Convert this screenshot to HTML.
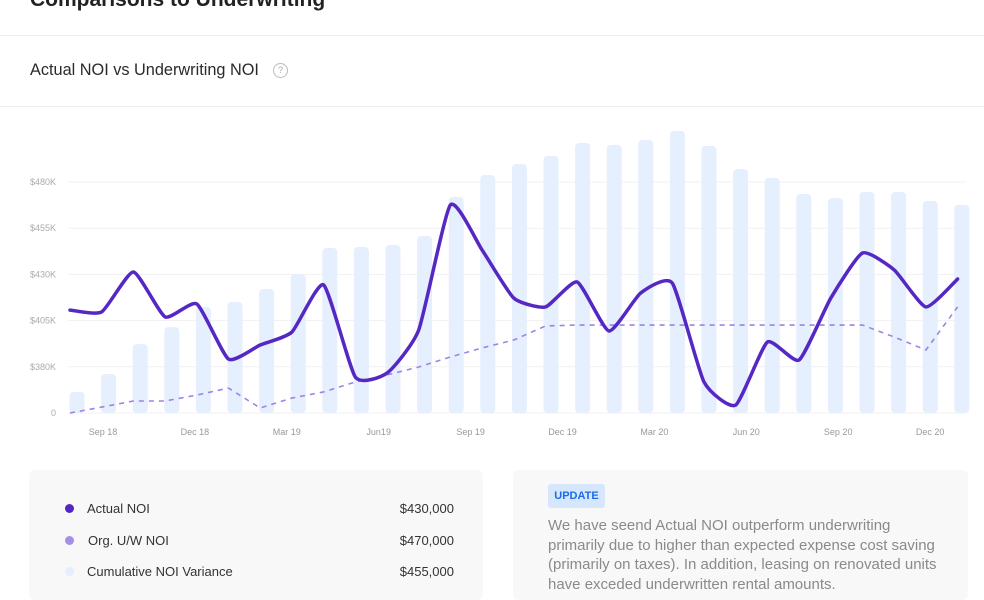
<!DOCTYPE html>
<html><head><meta charset="utf-8">
<style>
body{margin:0;width:984px;height:590px;overflow:hidden;background:#fff;font-family:"Liberation Sans",sans-serif;position:relative}
.abs{position:absolute}
</style></head><body>
<div class="abs" style="left:30px;top:-12px;font-size:21px;font-weight:bold;color:#222">Comparisons to Underwriting</div>
<div class="abs" style="left:0;top:35px;width:984px;height:1px;background:#eee"></div>
<div class="abs" style="left:30px;top:61px;font-size:16.3px;color:#2a2a2a">Actual NOI vs Underwriting NOI</div>
<div class="abs" style="left:273px;top:63px;width:13px;height:13px;border:1px solid #bbb;border-radius:50%;font-size:9px;color:#aaa;text-align:center;line-height:13px">?</div>
<div class="abs" style="left:0;top:106px;width:984px;height:1px;background:#eee"></div>
<svg class="abs" style="left:0;top:0" width="984" height="460" id="chart"></svg>
<div class="abs" style="left:29px;top:470px;width:454px;height:130px;background:#f8f8f9;border-radius:6px;font-size:13px;color:#333">
  <div class="abs" style="left:36px;top:34px;width:9px;height:9px;border-radius:50%;background:#5425c2"></div>
  <div class="abs" style="left:58px;top:31px">Actual NOI</div>
  <div class="abs" style="right:29px;top:31px">$430,000</div>
  <div class="abs" style="left:36px;top:66px;width:9px;height:9px;border-radius:50%;background:#a58ee4"></div>
  <div class="abs" style="left:59px;top:63px">Org. U/W NOI</div>
  <div class="abs" style="right:29px;top:63px">$470,000</div>
  <div class="abs" style="left:36px;top:97px;width:9px;height:9px;border-radius:50%;background:#e6eefc"></div>
  <div class="abs" style="left:58px;top:94px">Cumulative NOI Variance</div>
  <div class="abs" style="right:29px;top:94px">$455,000</div>
</div>
<div class="abs" style="left:513px;top:470px;width:455px;height:130px;background:#f8f8f9;border-radius:6px">
  <div class="abs" style="left:35px;top:14px;width:57px;height:24px;background:#d6e6fd;border-radius:3px;color:#1a6ce8;font-size:11px;font-weight:bold;text-align:center;line-height:24px">UPDATE</div>
  <div class="abs" style="left:35px;top:46px;width:390px;font-size:15px;line-height:19.5px;color:#8a8a8a">We have seend Actual NOI outperform underwriting primarily due to higher than expected expense cost saving (primarily on taxes). In addition, leasing on renovated units have exceded underwritten rental amounts.</div>
</div>
<script>
const tickLabels=["0","$380K","$405K","$430K","$455K","$480K"];
const tickValues=[355,380,405,430,455,480];
const xLabels=["Sep 18","Dec 18","Mar 19","Jun19","Sep 19","Dec 19","Mar 20","Jun 20","Sep 20","Dec 20"];
const varianceBars=[366.4,376.1,392.3,401.5,412.4,415.1,422.1,430.2,444.3,444.8,445.9,450.8,471.9,483.8,489.7,494.1,501.1,500,502.7,507.6,499.5,487,482.2,473.5,471.3,474.6,474.6,469.7,467.6];
const actualNOI=[410.7,409.7,431.3,407,414,384.2,391.8,398.8,424.3,374.5,376.6,399.9,467.6,443.2,417.2,412.4,425.9,399.4,419.9,425.3,371.8,359.3,393.4,383.7,417.2,441.6,432.4,412.4,427.5];
const uwNOI=[355,358.2,361.5,361.5,364.7,368.5,357.7,363.1,366.4,371.8,375.6,379.9,385.3,390.2,394.5,402.1,402.6,402.6,402.6,402.6,402.6,402.6,402.6,402.6,402.6,402.6,396.1,389.1,412.4];
const svg=document.getElementById('chart');
const NS='http://www.w3.org/2000/svg';
const y=v=>413-(v-355)*1.848;
const xb=i=>77+i*31.6;
const xl=i=>70+i*31.7;
const xt=i=>103+i*91.9;
function mk(t,a){const e=document.createElementNS(NS,t);for(const k in a)e.setAttribute(k,a[k]);svg.appendChild(e);return e;}
tickValues.forEach((v,i)=>{
  const g=mk('line',{x1:68,x2:966,y1:y(v),y2:y(v),stroke:'#f1f1f3','stroke-width':1});
  
  
  const t=mk('text',{x:56,y:y(v)+3,'text-anchor':'end','font-size':9,fill:'#aaa','font-family':'Liberation Sans'});
  t.textContent=tickLabels[i];
  
  
});
varianceBars.forEach((v,i)=>{
  const r=mk('rect',{x:xb(i)-7.5,y:y(v),width:15,height:413-y(v),rx:4,fill:'#e6effd'});
  
  
});
xLabels.forEach((l,i)=>{
  const t=mk('text',{x:xt(i),y:435,'text-anchor':'middle','font-size':9,fill:'#999','font-family':'Liberation Sans'});
  t.textContent=l;
  
  
});
function smooth(arr){
  const p=arr.map((v,i)=>[xl(i),y(v)]);
  let d=`M${p[0][0]},${p[0][1]}`;
  for(let i=0;i<p.length-1;i++){
    const p0=p[i-1]||p[i],p1=p[i],p2=p[i+1],p3=p[i+2]||p2;
    const t=0.09;
    d+=` C${p1[0]+(p2[0]-p0[0])*t},${p1[1]+(p2[1]-p0[1])*t} ${p2[0]-(p3[0]-p1[0])*t},${p2[1]-(p3[1]-p1[1])*t} ${p2[0]},${p2[1]}`;
  }
  return d;
}
const u=mk('path',{d:uwNOI.map((v,i)=>(i?'L':'M')+xl(i)+','+y(v)).join(' '),fill:'none',stroke:'#9b84e2','stroke-width':1.6,'stroke-dasharray':'5 5'});


const a=mk('path',{d:smooth(actualNOI),fill:'none',stroke:'#5528c4','stroke-width':3.5,'stroke-linejoin':'round','stroke-linecap':'round'});


</script>
</body></html>
